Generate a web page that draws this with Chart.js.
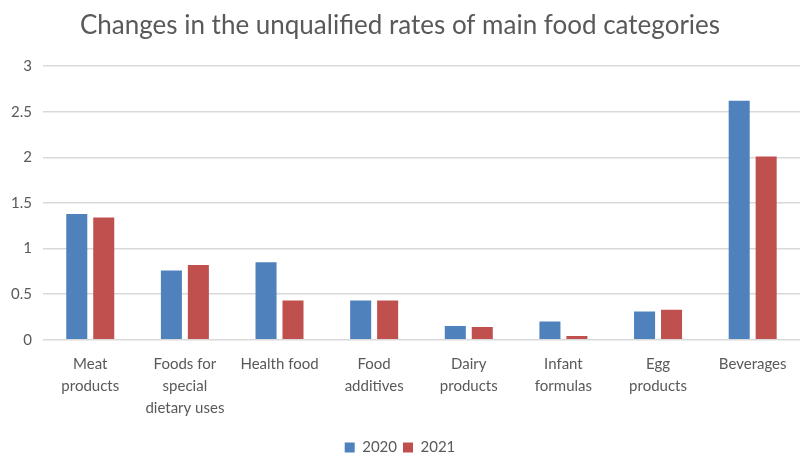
<!DOCTYPE html>
<html>
<head>
<meta charset="utf-8">
<script src="https://cdn.jsdelivr.net/npm/chart.js@4"></script>
<style>
  html, body { margin: 0; padding: 0; background: #fff; }
  #wrap { width: 812px; height: 459px; }
</style>
</head>
<body>
<div id="wrap"><canvas id="myChart"></canvas></div>
<script>
const categories = [
  ['Meat', 'products'],
  ['Foods for', 'special', 'dietary uses'],
  'Health food',
  ['Food', 'additives'],
  ['Dairy', 'products'],
  ['Infant', 'formulas'],
  ['Egg', 'products'],
  'Beverages'
];
const rates2020 = [1.38, 0.76, 0.85, 0.43, 0.15, 0.20, 0.31, 2.62];
const rates2021 = [1.34, 0.82, 0.43, 0.43, 0.14, 0.04, 0.33, 2.01];

const textColor = '#595959';
const fontFamily = 'Lato, "Open Sans", sans-serif';

const config = {
  type: 'bar',
  data: {
    labels: categories,
    datasets: [{
      label: '2020',
      backgroundColor: '#4f81bd',
      data: rates2020,
      categoryPercentage: 0.57,
      barPercentage: 0.78
    }, {
      label: '2021',
      backgroundColor: '#c0504d',
      data: rates2021,
      categoryPercentage: 0.57,
      barPercentage: 0.78
    }]
  },
  options: {
    responsive: true,
    maintainAspectRatio: false,
    animation: false,
    layout: { padding: { left: 0, right: 12, top: 5, bottom: -6 } },
    plugins: {
      title: {
        display: true,
        text: 'Changes in the unqualified rates of main food categories',
        color: textColor,
        font: { family: fontFamily, size: 26, weight: 'normal' },
        padding: { top: 5, bottom: 25 }
      },
      legend: {
        position: 'bottom',
        labels: {
          color: textColor,
          font: { family: fontFamily, size: 15 },
          boxWidth: 10,
          boxHeight: 10,
          padding: 6
        }
      },
      tooltip: { enabled: false }
    },
    scales: {
      x: {
        grid: { display: false },
        border: { display: false },
        afterFit: function (scale) { scale.height += 9; },
        ticks: {
          color: textColor,
          font: { family: fontFamily, size: 15, lineHeight: 1.45 },
          maxRotation: 0,
          autoSkip: false,
          padding: 6
        }
      },
      y: {
        min: 0,
        max: 3,
        border: { display: false },
        grid: { color: '#d9d9d9', lineWidth: 1.5, drawTicks: false },
        ticks: {
          stepSize: 0.5,
          color: textColor,
          font: { family: fontFamily, size: 15 },
          padding: 11,
          callback: function (v) { return String(v); }
        }
      }
    }
  }
};

var ctx = document.getElementById('myChart').getContext('2d');
var grafica = new Chart(ctx, config);
</script>
</body>
</html>
